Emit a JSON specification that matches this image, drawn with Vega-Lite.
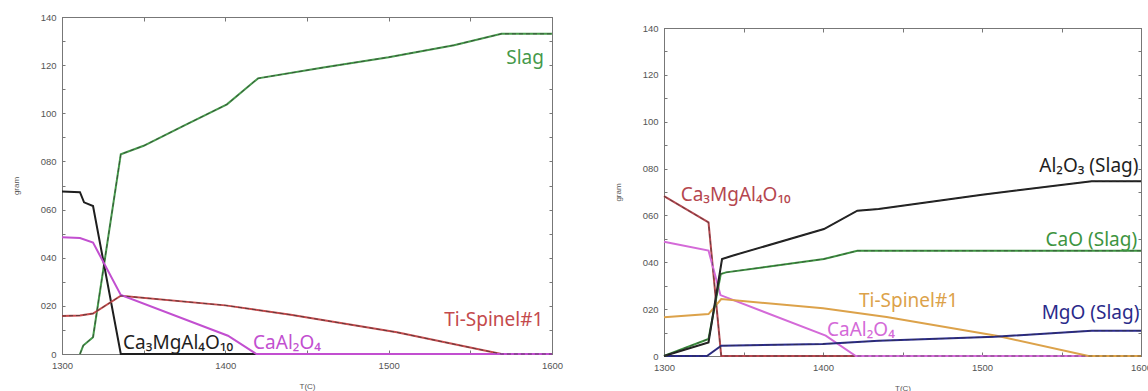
{
  "$schema": "https://vega.github.io/schema/vega-lite/v6.json",
  "padding": {"left": 11, "top": 11, "right": 0, "bottom": 0},
  "background": "white",
  "config": {
    "view": {"stroke": "#777", "strokeWidth": 1},
    "axis": {"grid": false, "domainColor": "#777", "tickColor": "#777", "labelColor": "#555", "labelFont": "Liberation Sans", "labelFontSize": 9.5, "titleFont": "Liberation Sans", "titleFontSize": 8, "titleFontWeight": "normal", "titleColor": "#555"},
    "text": {"font": "Noto Sans", "fontSize": 19, "align": "left", "baseline": "alphabetic"}
  },
  "datasets": {
    "left": [
      {"s": "Slag", "T": 1311, "v": 0}, {"s": "Slag", "T": 1313, "v": 3.5}, {"s": "Slag", "T": 1319, "v": 7}, {"s": "Slag", "T": 1336, "v": 83}, {"s": "Slag", "T": 1350, "v": 86.5}, {"s": "Slag", "T": 1375, "v": 95}, {"s": "Slag", "T": 1401, "v": 103.7}, {"s": "Slag", "T": 1420, "v": 114.5}, {"s": "Slag", "T": 1460, "v": 119}, {"s": "Slag", "T": 1500, "v": 123.3}, {"s": "Slag", "T": 1540, "v": 128.3}, {"s": "Slag", "T": 1569, "v": 133}, {"s": "Slag", "T": 1600, "v": 133},
      {"s": "Ca3MgAl4O10", "T": 1300, "v": 67.5}, {"s": "Ca3MgAl4O10", "T": 1311, "v": 67.2}, {"s": "Ca3MgAl4O10", "T": 1313.5, "v": 63}, {"s": "Ca3MgAl4O10", "T": 1319, "v": 61.5}, {"s": "Ca3MgAl4O10", "T": 1336, "v": 0}, {"s": "Ca3MgAl4O10", "T": 1600, "v": 0},
      {"s": "Ti-Spinel#1", "T": 1300, "v": 15.8}, {"s": "Ti-Spinel#1", "T": 1311, "v": 16.0}, {"s": "Ti-Spinel#1", "T": 1319, "v": 16.8}, {"s": "Ti-Spinel#1", "T": 1336, "v": 24.2}, {"s": "Ti-Spinel#1", "T": 1400, "v": 20.2}, {"s": "Ti-Spinel#1", "T": 1440, "v": 16.3}, {"s": "Ti-Spinel#1", "T": 1505, "v": 9}, {"s": "Ti-Spinel#1", "T": 1569, "v": 0}, {"s": "Ti-Spinel#1", "T": 1600, "v": 0},
      {"s": "CaAl2O4", "T": 1300, "v": 48.5}, {"s": "CaAl2O4", "T": 1311, "v": 48.2}, {"s": "CaAl2O4", "T": 1319, "v": 46.3}, {"s": "CaAl2O4", "T": 1336, "v": 24.5}, {"s": "CaAl2O4", "T": 1401.6, "v": 7.6}, {"s": "CaAl2O4", "T": 1419, "v": 0}, {"s": "CaAl2O4", "T": 1600, "v": 0}
    ],
    "leftLabels": [
      {"s": "Slag", "label": "Slag", "T": 1572, "v": 120.3},
      {"s": "Ti-Spinel#1", "label": "Ti-Spinel#1", "T": 1534, "v": 11.6},
      {"s": "Ca3MgAl4O10", "label": "Ca₃MgAl₄O₁₀", "T": 1337.4, "v": 2.1},
      {"s": "CaAl2O4", "label": "CaAl₂O₄", "T": 1417, "v": 2.1}
    ],
    "right": [
      {"s": "Ca3MgAl4O10", "T": 1300, "v": 68.2}, {"s": "Ca3MgAl4O10", "T": 1328, "v": 57}, {"s": "Ca3MgAl4O10", "T": 1336, "v": 0}, {"s": "Ca3MgAl4O10", "T": 1600, "v": 0},
      {"s": "CaAl2O4", "T": 1300, "v": 48.8}, {"s": "CaAl2O4", "T": 1328, "v": 45}, {"s": "CaAl2O4", "T": 1335.5, "v": 26}, {"s": "CaAl2O4", "T": 1401.7, "v": 8.7}, {"s": "CaAl2O4", "T": 1420.6, "v": 0}, {"s": "CaAl2O4", "T": 1600, "v": 0},
      {"s": "Ti-Spinel#1", "T": 1300, "v": 16.5}, {"s": "Ti-Spinel#1", "T": 1328, "v": 17.9}, {"s": "Ti-Spinel#1", "T": 1336, "v": 24.3}, {"s": "Ti-Spinel#1", "T": 1400, "v": 20.4}, {"s": "Ti-Spinel#1", "T": 1440, "v": 16.6}, {"s": "Ti-Spinel#1", "T": 1510, "v": 8.5}, {"s": "Ti-Spinel#1", "T": 1567, "v": 0}, {"s": "Ti-Spinel#1", "T": 1600, "v": 0},
      {"s": "MgO (Slag)", "T": 1300, "v": 0}, {"s": "MgO (Slag)", "T": 1327, "v": 0}, {"s": "MgO (Slag)", "T": 1336, "v": 4.4}, {"s": "MgO (Slag)", "T": 1400, "v": 5.1}, {"s": "MgO (Slag)", "T": 1435, "v": 6.5}, {"s": "MgO (Slag)", "T": 1508, "v": 8.2}, {"s": "MgO (Slag)", "T": 1569, "v": 10.8}, {"s": "MgO (Slag)", "T": 1600, "v": 10.8},
      {"s": "CaO (Slag)", "T": 1300, "v": 0}, {"s": "CaO (Slag)", "T": 1328, "v": 7.3}, {"s": "CaO (Slag)", "T": 1335.7, "v": 35}, {"s": "CaO (Slag)", "T": 1339, "v": 35.7}, {"s": "CaO (Slag)", "T": 1400.6, "v": 41.4}, {"s": "CaO (Slag)", "T": 1421.6, "v": 44.9}, {"s": "CaO (Slag)", "T": 1600, "v": 44.9},
      {"s": "Al2O3 (Slag)", "T": 1300, "v": 0}, {"s": "Al2O3 (Slag)", "T": 1328, "v": 5.8}, {"s": "Al2O3 (Slag)", "T": 1336.5, "v": 41.4}, {"s": "Al2O3 (Slag)", "T": 1343, "v": 42.8}, {"s": "Al2O3 (Slag)", "T": 1400.6, "v": 54.2}, {"s": "Al2O3 (Slag)", "T": 1421.6, "v": 62}, {"s": "Al2O3 (Slag)", "T": 1435, "v": 62.7}, {"s": "Al2O3 (Slag)", "T": 1500, "v": 68.8}, {"s": "Al2O3 (Slag)", "T": 1569, "v": 74.6}, {"s": "Al2O3 (Slag)", "T": 1600, "v": 74.6}
    ],
    "rightLabels": [
      {"s": "Ca3MgAl4O10", "label": "Ca₃MgAl₄O₁₀", "T": 1310.5, "v": 66.3},
      {"s": "Al2O3 (Slag)", "label": "Al₂O₃ (Slag)", "T": 1536, "v": 78.5},
      {"s": "CaO (Slag)", "label": "CaO (Slag)", "T": 1540, "v": 47.1},
      {"s": "Ti-Spinel#1", "label": "Ti-Spinel#1", "T": 1422.6, "v": 20.9},
      {"s": "MgO (Slag)", "label": "MgO (Slag)", "T": 1537.5, "v": 15.8},
      {"s": "CaAl2O4", "label": "CaAl₂O₄", "T": 1402.5, "v": 8.7}
    ]
  },
  "spacing": 49,
  "resolve": {"scale": {"color": "independent", "x": "independent", "y": "independent"}},
  "hconcat": [
    {
      "width": 490, "height": 337,
      "resolve": {"axis": {"x": "independent", "y": "independent"}},
      "layer": [
        {
          "data": {"name": "left"},
          "mark": {"type": "line", "strokeWidth": 2},
          "encoding": {
            "x": {"field": "T", "type": "quantitative", "scale": {"domain": [1300, 1600], "nice": false, "zero": false},
                  "axis": {"orient": "bottom", "values": [1300, 1350, 1400, 1450, 1500, 1550, 1600], "format": "d", "labelExpr": "datum.value % 100 == 0 ? datum.label : ''", "labelFlush": false, "tickSize": -4, "labelPadding": 10, "title": "T(C)", "titlePadding": 13}},
            "y": {"field": "v", "type": "quantitative", "scale": {"domain": [0, 140], "nice": false},
                  "axis": {"orient": "left", "values": [0, 10, 20, 30, 40, 50, 60, 70, 80, 90, 100, 110, 120, 130, 140], "labelExpr": "datum.value == 0 ? '0' : (datum.value % 20 != 0 ? '' : (datum.value < 100 ? '0' + datum.value : '' + datum.value))", "tickSize": -3, "labelPadding": 9, "title": "gram", "titlePadding": 20}},
            "color": {"field": "s", "type": "nominal", "legend": null,
                      "scale": {"domain": ["Slag", "Ti-Spinel#1", "Ca3MgAl4O10", "CaAl2O4"], "range": ["#45994a", "#c44a4c", "#1e1e1e", "#c24fd0"]}}
          }
        },
        {
          "data": {"name": "left"},
          "transform": [{"filter": {"field": "s", "oneOf": ["Slag", "Ti-Spinel#1"]}}],
          "mark": {"type": "line", "strokeWidth": 1, "strokeDash": [4, 3], "color": "#333", "opacity": 0.7},
          "encoding": {
            "x": {"field": "T", "type": "quantitative", "axis": null},
            "y": {"field": "v", "type": "quantitative", "axis": null},
            "detail": {"field": "s"}
          }
        },
        {
          "data": {"name": "leftLabels"},
          "mark": {"type": "text"},
          "encoding": {
            "x": {"field": "T", "type": "quantitative", "axis": {"orient": "top", "values": [1300, 1350, 1400, 1450, 1500, 1550, 1600], "labels": false, "tickSize": -4, "title": null}},
            "y": {"field": "v", "type": "quantitative", "axis": {"orient": "right", "values": [0, 10, 20, 30, 40, 50, 60, 70, 80, 90, 100, 110, 120, 130, 140], "labels": false, "tickSize": -3, "title": null}},
            "text": {"field": "label"},
            "color": {"field": "s", "type": "nominal", "legend": null}
          }
        }
      ]
    },
    {
      "spacing": 4,
      "vconcat": [
        {
          "width": 477, "height": 1,
          "view": {"stroke": null},
          "data": {"values": [{"T": 1300}]},
          "mark": {"type": "point", "size": 0, "opacity": 0, "strokeWidth": 0},
          "encoding": {}
        },
        {
          "width": 477, "height": 328,
          "resolve": {"axis": {"x": "independent", "y": "independent"}},
          "layer": [
            {
              "data": {"name": "right"},
              "mark": {"type": "line", "strokeWidth": 2},
              "encoding": {
                "x": {"field": "T", "type": "quantitative", "scale": {"domain": [1300, 1600], "nice": false, "zero": false},
                      "axis": {"orient": "bottom", "values": [1300, 1350, 1400, 1450, 1500, 1550, 1600], "format": "d", "labelExpr": "datum.value % 100 == 0 ? datum.label : ''", "labelFlush": false, "tickSize": -4, "labelPadding": 10, "title": "T(C)", "titlePadding": 13}},
                "y": {"field": "v", "type": "quantitative", "scale": {"domain": [0, 140], "nice": false},
                      "axis": {"orient": "left", "values": [0, 10, 20, 30, 40, 50, 60, 70, 80, 90, 100, 110, 120, 130, 140], "labelExpr": "datum.value == 0 ? '0' : (datum.value % 20 != 0 ? '' : (datum.value < 100 ? '0' + datum.value : '' + datum.value))", "tickSize": -3, "labelPadding": 9, "title": "gram", "titlePadding": 20}},
                "color": {"field": "s", "type": "nominal", "legend": null,
                          "scale": {"domain": ["Ca3MgAl4O10", "CaAl2O4", "Ti-Spinel#1", "MgO (Slag)", "CaO (Slag)", "Al2O3 (Slag)"], "range": ["#b5474f", "#d46ad8", "#dca24a", "#2a2a8a", "#3d9440", "#1e1e1e"]}}
              }
            },
            {
              "data": {"name": "right"},
              "transform": [{"filter": {"field": "s", "oneOf": ["Ca3MgAl4O10", "MgO (Slag)", "CaO (Slag)", "Al2O3 (Slag)"]}}],
              "mark": {"type": "line", "strokeWidth": 1, "strokeDash": [4, 3], "color": "#333", "opacity": 0.6},
              "encoding": {
                "x": {"field": "T", "type": "quantitative", "axis": null},
                "y": {"field": "v", "type": "quantitative", "axis": null},
                "detail": {"field": "s"}
              }
            },
            {
              "data": {"name": "rightLabels"},
              "mark": {"type": "text", "fontSize": 19},
              "encoding": {
                "x": {"field": "T", "type": "quantitative", "axis": {"orient": "top", "values": [1300, 1350, 1400, 1450, 1500, 1550, 1600], "labels": false, "tickSize": -4, "title": null}},
                "y": {"field": "v", "type": "quantitative", "axis": {"orient": "right", "values": [0, 10, 20, 30, 40, 50, 60, 70, 80, 90, 100, 110, 120, 130, 140], "labels": false, "tickSize": -3, "title": null}},
                "text": {"field": "label"},
                "color": {"field": "s", "type": "nominal", "legend": null}
              }
            }
          ]
        }
      ]
    }
  ]
}
